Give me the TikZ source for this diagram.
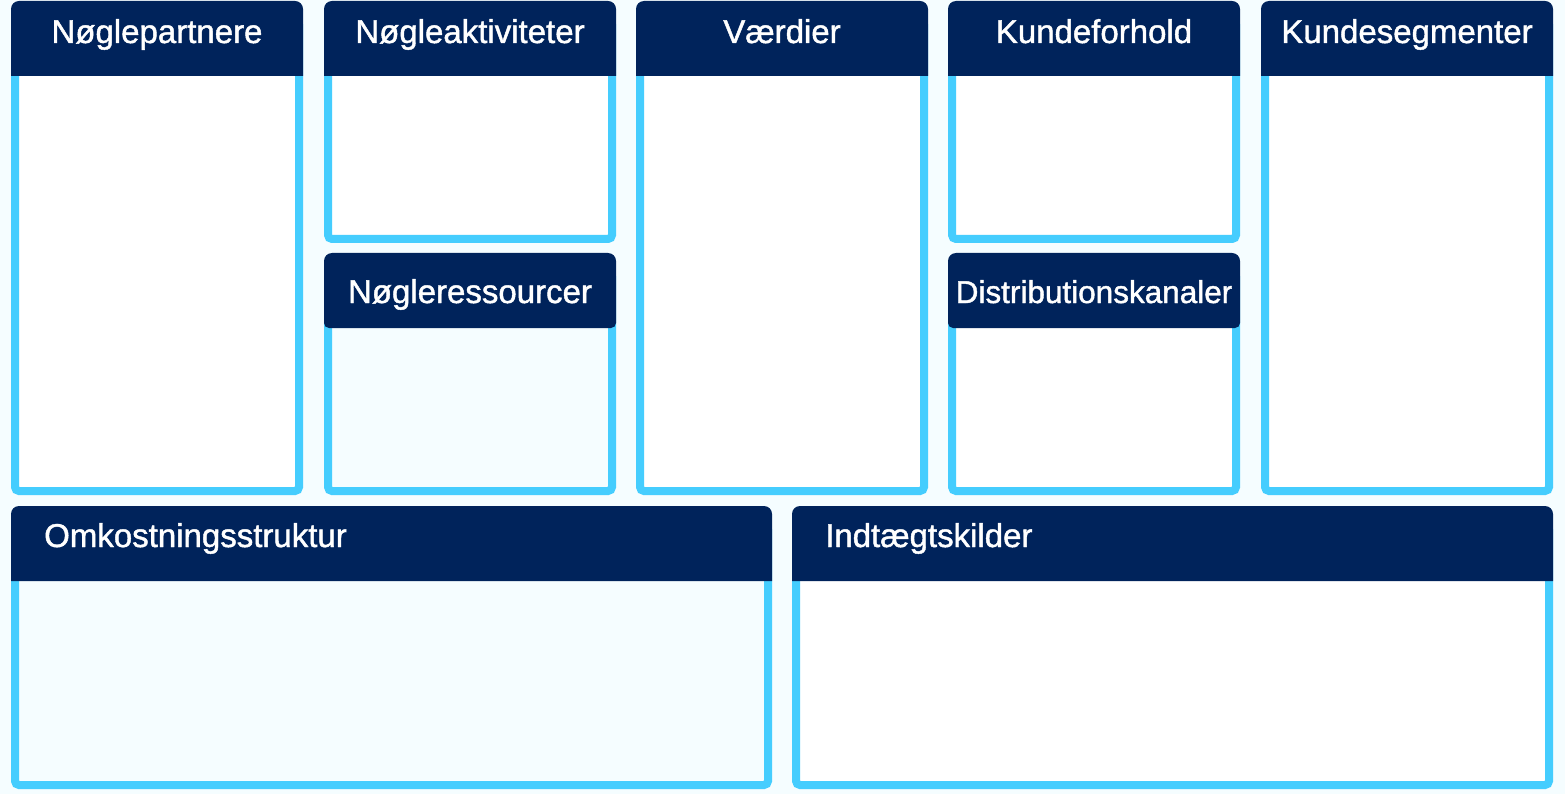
\documentclass[tikz,border=0pt]{standalone}
\usepackage{fontspec}
\setmainfont{Liberation Sans}
\newfontfamily\titlefont{Liberation Sans}[FakeBold=1.3]
\definecolor{navy}{HTML}{00235B}
\definecolor{cyanb}{HTML}{45CDFE}
\definecolor{paper}{HTML}{F5FDFF}
\tikzset{
  frame/.style={draw=cyanb, line width=8pt, rounded corners=4pt},
  headfill/.style={fill=navy},
  title/.style={text=white, font=\titlefont\fontsize{33}{38}\selectfont, inner sep=0pt},
}
% #1 name, #2 x1, #3 y1, #4 x2, #5 y2, #6 fill colour, #7 bottom corner radius of header
\newcommand{\bmcbox}[7]{%
  \draw[frame, fill=#6] ({#2+4},{#3+20}) rectangle ({#4-4},{#5-4});
  \fill[headfill] ({(#2+#4)/2},{#3+75}) [rounded corners=#7] -- (#2,{#3+75}) [rounded corners=8pt] -- (#2,#3) -- (#4,#3) [rounded corners=#7] -- (#4,{#3+75}) -- cycle;
  \coordinate (#1-c) at ({(#2+#4)/2},{#3+42});
}
\begin{document}
\begin{tikzpicture}[x=1pt,y=-1pt]
\fill[paper] (0,0) rectangle (1565,794);
\useasboundingbox (0,0) rectangle (1565,794);
\bmcbox{np}{11}{1}{303}{495}{white}{0pt}
\bmcbox{na}{324}{1}{616}{243}{white}{0pt}
\bmcbox{nr}{324}{253}{616}{495}{paper}{5pt}
\bmcbox{vd}{636}{1}{928}{495}{white}{0pt}
\bmcbox{kf}{948}{1}{1240}{243}{white}{0pt}
\bmcbox{dk}{948}{253}{1240}{495}{white}{5pt}
\bmcbox{ks}{1261}{1}{1553}{495}{white}{0pt}
\bmcbox{os}{11}{506}{772}{789}{paper}{0pt}
\bmcbox{it}{792}{506}{1553}{789}{white}{0pt}
\node[title, anchor=base] (tnp) at (np-c) {Nøglepartnere};
\node[title, anchor=base] (tna) at (na-c) {Nøgleaktiviteter};
\node[title, anchor=base] (tnr) at ([yshift=-8pt]nr-c) {Nøgleressourcer};
\node[title, anchor=base] (tvd) at (vd-c) {Værdier};
\node[title, anchor=base] (tkf) at (kf-c) {Kundeforhold};
\node[title, anchor=base, font=\titlefont\fontsize{31.5}{36}\selectfont] (tdk) at ([yshift=-8pt]dk-c) {Distributionskanaler};
\node[title, anchor=base] (tks) at (ks-c) {Kundesegmenter};
\node[title, anchor=base west] (tos) at (44,547) {Omkostningsstruktur};
\node[title, anchor=base west] (tit) at (825,547) {Indtægtskilder};
\end{tikzpicture}
\end{document}
